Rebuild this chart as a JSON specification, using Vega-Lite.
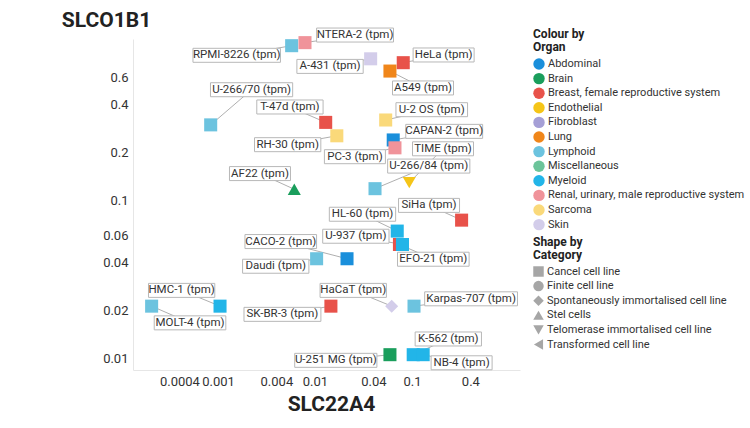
{
  "$schema": "https://vega.github.io/schema/vega-lite/v6.json",
  "width": 387,
  "height": 331,
  "autosize": {"type": "none"},
  "padding": {"left": 133, "top": 39, "right": 230, "bottom": 58},
  "background": "white",
  "config": {
    "font": "Roboto",
    "view": {"stroke": null},
    "axis": {"grid": false, "ticks": false, "domainColor": "#e6e6e6", "labelFontSize": 13, "labelColor": "#333333", "labelPadding": 5, "titleFontSize": 21, "titleFontWeight": "bold", "titleColor": "#222222"}
  },
  "data": {
    "values": [
      {"name": "RPMI-8226 (tpm)", "x": 0.00575, "y": 0.948, "lx": 0.00156, "ly": 0.824, "organ": "Lymphoid", "category": "Cancel cell line"},
      {"name": "NTERA-2 (tpm)", "x": 0.00789, "y": 0.991, "lx": 0.0259, "ly": 1.107, "organ": "Renal, urinary, male reproductive system", "category": "Cancel cell line"},
      {"name": "A-431 (tpm)", "x": 0.0375, "y": 0.783, "lx": 0.0143, "ly": 0.701, "organ": "Skin", "category": "Cancel cell line"},
      {"name": "HeLa (tpm)", "x": 0.0813, "y": 0.74, "lx": 0.212, "ly": 0.828, "organ": "Breast, female reproductive system", "category": "Cancel cell line"},
      {"name": "A549 (tpm)", "x": 0.0593, "y": 0.655, "lx": 0.13, "ly": 0.512, "organ": "Lung", "category": "Cancel cell line"},
      {"name": "U-266/70 (tpm)", "x": 0.000841, "y": 0.299, "lx": 0.00222, "ly": 0.499, "organ": "Lymphoid", "category": "Cancel cell line"},
      {"name": "T-47d (tpm)", "x": 0.0129, "y": 0.31, "lx": 0.00552, "ly": 0.388, "organ": "Breast, female reproductive system", "category": "Cancel cell line"},
      {"name": "RH-30 (tpm)", "x": 0.0168, "y": 0.255, "lx": 0.00523, "ly": 0.224, "organ": "Sarcoma", "category": "Cancel cell line"},
      {"name": "U-2 OS (tpm)", "x": 0.0536, "y": 0.321, "lx": 0.16, "ly": 0.373, "organ": "Sarcoma", "category": "Cancel cell line"},
      {"name": "CAPAN-2 (tpm)", "x": 0.0641, "y": 0.24, "lx": 0.215, "ly": 0.272, "organ": "Abdominal", "category": "Cancel cell line"},
      {"name": "PC-3 (tpm)", "x": 0.0668, "y": 0.214, "lx": 0.0258, "ly": 0.188, "organ": "Renal, urinary, male reproductive system", "category": "Cancel cell line"},
      {"name": "TIME (tpm)", "x": 0.0938, "y": 0.129, "lx": 0.209, "ly": 0.211, "organ": "Endothelial", "category": "Telomerase immortalised cell line"},
      {"name": "U-266/84 (tpm)", "x": 0.0416, "y": 0.118, "lx": 0.149, "ly": 0.164, "organ": "Lymphoid", "category": "Cancel cell line"},
      {"name": "AF22 (tpm)", "x": 0.00612, "y": 0.117, "lx": 0.00271, "ly": 0.147, "organ": "Brain", "category": "Stel cells"},
      {"name": "SiHa (tpm)", "x": 0.325, "y": 0.0746, "lx": 0.15, "ly": 0.0925, "organ": "Breast, female reproductive system", "category": "Cancel cell line"},
      {"name": "HL-60 (tpm)", "x": 0.0705, "y": 0.0636, "lx": 0.0309, "ly": 0.0813, "organ": "Myeloid", "category": "Cancel cell line"},
      {"name": "EFO-21 (tpm)", "x": 0.0743, "y": 0.0523, "lx": 0.166, "ly": 0.0422, "organ": "Breast, female reproductive system", "category": "Cancel cell line"},
      {"name": "U-937 (tpm)", "x": 0.0798, "y": 0.0523, "lx": 0.0264, "ly": 0.059, "organ": "Myeloid", "category": "Cancel cell line"},
      {"name": "CACO-2 (tpm)", "x": 0.0214, "y": 0.0425, "lx": 0.00444, "ly": 0.0546, "organ": "Abdominal", "category": "Cancel cell line"},
      {"name": "Daudi (tpm)", "x": 0.0104, "y": 0.0425, "lx": 0.00394, "ly": 0.0381, "organ": "Lymphoid", "category": "Cancel cell line"},
      {"name": "MOLT-4 (tpm)", "x": 0.000207, "y": 0.0213, "lx": 0.000515, "ly": 0.0167, "organ": "Lymphoid", "category": "Cancel cell line"},
      {"name": "HMC-1 (tpm)", "x": 0.00105, "y": 0.0213, "lx": 0.000422, "ly": 0.0268, "organ": "Myeloid", "category": "Cancel cell line"},
      {"name": "SK-BR-3 (tpm)", "x": 0.0146, "y": 0.0213, "lx": 0.00462, "ly": 0.0189, "organ": "Breast, female reproductive system", "category": "Cancel cell line"},
      {"name": "HaCaT (tpm)", "x": 0.0618, "y": 0.0213, "lx": 0.0248, "ly": 0.0268, "organ": "Skin", "category": "Spontaneously immortalised cell line"},
      {"name": "Karpas-707 (tpm)", "x": 0.105, "y": 0.0213, "lx": 0.407, "ly": 0.0237, "organ": "Lymphoid", "category": "Cancel cell line"},
      {"name": "U-251 MG (tpm)", "x": 0.0593, "y": 0.0105, "lx": 0.0164, "ly": 0.00967, "organ": "Brain", "category": "Cancel cell line"},
      {"name": "K-562 (tpm)", "x": 0.103, "y": 0.0105, "lx": 0.237, "ly": 0.0132, "organ": "Myeloid", "category": "Cancel cell line"},
      {"name": "NB-4 (tpm)", "x": 0.1305, "y": 0.0105, "lx": 0.325, "ly": 0.00933, "organ": "Myeloid", "category": "Cancel cell line"}
    ]
  },
  "layer": [
    {
      "mark": {"type": "rule", "color": "#9a9a9a", "strokeWidth": 0.8},
      "encoding": {
        "x": {"field": "x", "type": "quantitative", "scale": {"type": "log", "domain": [0.000133, 1.3], "nice": false}, "axis": {"title": "SLC22A4", "values": [0.0004, 0.001, 0.004, 0.01, 0.04, 0.1, 0.4], "format": "~g", "titleX": 198, "titleY": 34, "titleBaseline": "middle", "titleAlign": "center"}},
        "y": {"field": "y", "type": "quantitative", "scale": {"type": "log", "domain": [0.0084, 1.045], "nice": false}, "axis": {"title": "SLCO1B1", "values": [0.01, 0.02, 0.04, 0.06, 0.1, 0.2, 0.4, 0.6], "format": "~g", "titleAngle": 0, "titleX": -27, "titleY": -19, "titleAlign": "center", "titleBaseline": "middle"}},
        "x2": {"field": "lx"},
        "y2": {"field": "ly"}
      }
    },
    {
      "mark": {"type": "point", "filled": true, "opacity": 1, "size": 170},
      "encoding": {
        "x": {"field": "x", "type": "quantitative"},
        "y": {"field": "y", "type": "quantitative"},
        "color": {"field": "organ", "type": "nominal",
          "scale": {"domain": ["Abdominal", "Brain", "Breast, female reproductive system", "Endothelial", "Fibroblast", "Lung", "Lymphoid", "Miscellaneous", "Myeloid", "Renal, urinary, male reproductive system", "Sarcoma", "Skin"],
                    "range": ["#1a8fdb", "#1a9e5c", "#e8524a", "#f5c518", "#a59fd6", "#f0861a", "#6cc3df", "#6cc49a", "#22b5e8", "#f0939a", "#fad97a", "#d3cdea"]},
          "legend": {"orient": "none", "legendX": 400, "legendY": -10, "title": ["Colour by", "Organ"], "titleFontSize": 12, "titleFontWeight": "bold", "titleColor": "#222222", "titleLineHeight": 13, "labelFontSize": 11, "labelColor": "#333333", "symbolType": "circle", "symbolSize": 130, "symbolStrokeWidth": 0, "rowPadding": 2.6, "labelLimit": 300, "labelOffset": 3, "titlePadding": 4}},
        "shape": {"field": "category", "type": "nominal",
          "scale": {"domain": ["Cancel cell line", "Finite cell line", "Spontaneously immortalised cell line", "Stel cells", "Telomerase immortalised cell line", "Transformed cell line"],
                    "range": ["square", "circle", "diamond", "triangle-up", "triangle-down", "triangle-left"]},
          "legend": {"orient": "none", "legendX": 400, "legendY": 198, "title": ["Shape by", "Category"], "titleFontSize": 12, "titleFontWeight": "bold", "titleColor": "#222222", "titleLineHeight": 13, "labelFontSize": 11, "labelColor": "#333333", "symbolSize": 110, "symbolFillColor": "#a6a6a6", "symbolStrokeWidth": 0, "rowPadding": 2.6, "labelLimit": 300, "labelOffset": 3, "titlePadding": 4,
            "encode": {"symbols": {"update": {"fill": {"value": "#a6a6a6"}, "stroke": {"value": "#a6a6a6"}, "opacity": {"value": 1}}}}}
        }
      }
    },
    {
      "mark": {"type": "rect", "fill": "white", "stroke": "#b8b8b8", "strokeWidth": 1, "width": {"expr": "length(datum.name)*5.3+8"}, "height": 14},
      "encoding": {
        "x": {"field": "lx", "type": "quantitative"},
        "y": {"field": "ly", "type": "quantitative"}
      }
    },
    {
      "mark": {"type": "text", "fontSize": 11.5, "color": "#333333", "align": "center", "baseline": "middle"},
      "encoding": {
        "x": {"field": "lx", "type": "quantitative"},
        "y": {"field": "ly", "type": "quantitative"},
        "text": {"field": "name"}
      }
    }
  ]
}
